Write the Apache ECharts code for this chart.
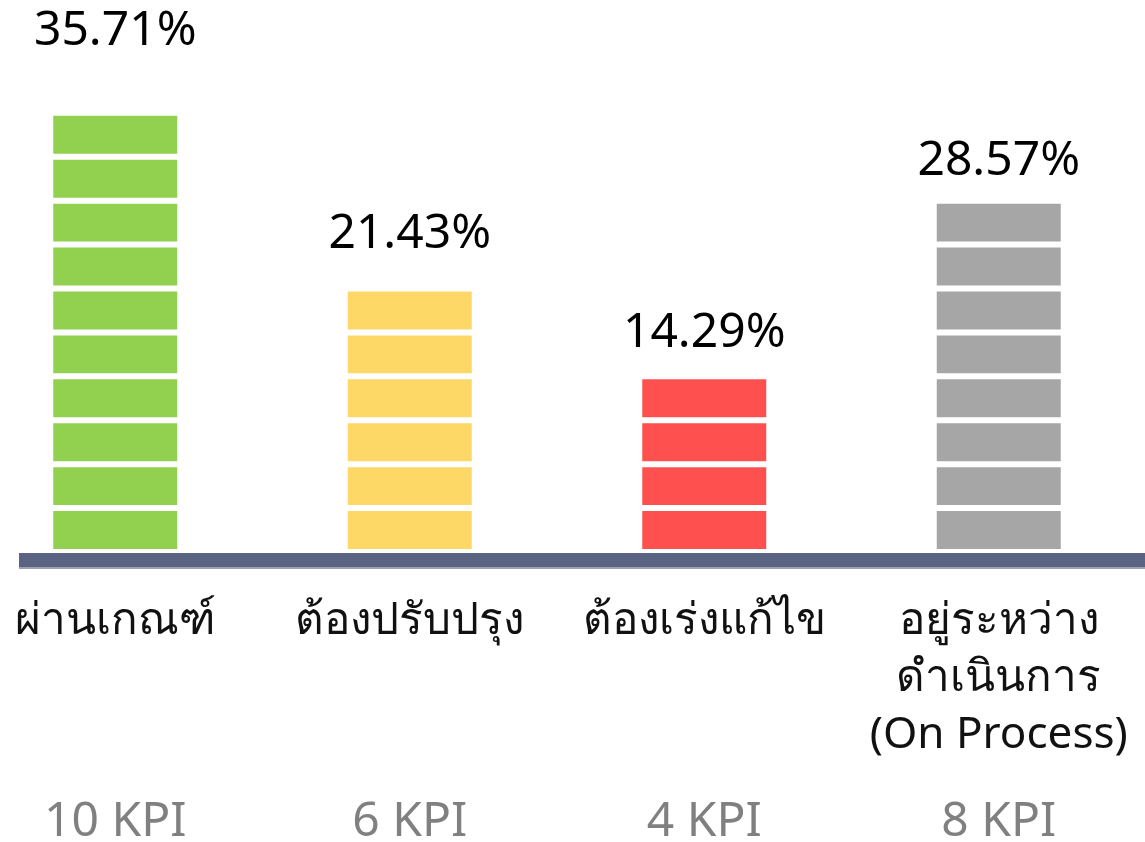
<!DOCTYPE html>
<html lang="th">
<head>
    <meta charset="UTF-8">
    <title>KPI</title>
    <script src="https://cdn.jsdelivr.net/npm/echarts@6/dist/echarts.min.js"></script>
    <style>
        *{margin:0;padding:0;}
        body,html{width:100%;height:100%;overflow:hidden;background:#fff;}
        .box{width:1145px;height:842px;}
    </style>
</head>
<body>
<div class="box"></div>
<script>
    // ข้อมูล
    let categories = ['ผ่านเกณฑ์', 'ต้องปรับปรุง', 'ต้องเร่งแก้ไข', 'อยู่ระหว่าง\nดำเนินการ\n(On Process)'];
    let kpiCounts = [10, 6, 4, 8];
    let percents = ['35.71%', '21.43%', '14.29%', '28.57%'];
    let kpiLabels = ['10 KPI', '6 KPI', '4 KPI', '8 KPI'];

    // สไตล์
    let colors = ['#92d050', '#fdd866', '#ff5050', '#a6a6a6'];
    let labelGap = [57, 29, 18, 14];
    let font = "'Noto Sans', sans-serif";

    let myChart = echarts.init(document.querySelector('.box'));

    let maxCount = Math.max(...kpiCounts);
    let series = [];
    for (let i = 0; i < maxCount; i++) {
        series.push({
            type: 'bar',
            stack: 'kpi',
            barWidth: 130,
            xAxisIndex: 0,
            yAxisIndex: 0,
            data: kpiCounts.map((k, c) => {
                if (k <= i) return '-';
                return {
                    value: 1,
                    itemStyle: {color: colors[c]},
                    label: {show: i === k - 1, distance: labelGap[c]}
                };
            }),
            itemStyle: {borderColor: '#fff', borderWidth: 3},
            label: {
                position: 'top',
                fontSize: 48,
                lineHeight: 50,
                color: '#000',
                fontFamily: font,
                formatter: p => percents[p.dataIndex]
            },
            emphasis: {disabled: true},
            silent: true
        });
    }

    let option = {
        backgroundColor: '#fff',
        animation: false,
        grid: [
            {left: -32, right: -1, top: 25, bottom: 290, containLabel: false, outerBoundsMode: 'none'},
            {left: 19, right: 0, top: 100, bottom: 282, containLabel: false, outerBoundsMode: 'none'}
        ],
        xAxis: [
            {
                gridIndex: 0,
                type: 'category',
                data: categories,
                axisLine: {show: false},
                axisTick: {show: false},
                axisLabel: {
                    interval: 0,
                    margin: 41,
                    fontSize: 44,
                    lineHeight: 57,
                    color: '#111',
                    fontFamily: font,
                    verticalAlign: 'top'
                }
            },
            {
                gridIndex: 0,
                type: 'category',
                position: 'bottom',
                offset: 239,
                data: kpiLabels,
                axisLine: {show: false},
                axisTick: {show: false},
                axisLabel: {
                    interval: 0,
                    margin: 8,
                    fontSize: 48,
                    lineHeight: 46,
                    color: '#808080',
                    fontFamily: font,
                    verticalAlign: 'top'
                }
            },
            {
                gridIndex: 1,
                type: 'category',
                data: categories,
                axisLine: {lineStyle: {color: '#5b6383', width: 14, cap: 'butt', shadowColor: '#9ca1b6', shadowOffsetY: 2}},
                axisTick: {show: false},
                axisLabel: {show: false}
            }
        ],
        yAxis: [
            {gridIndex: 0, type: 'value', min: 0, max: 12, show: false},
            {gridIndex: 1, type: 'value', show: false}
        ],
        series
    };

    myChart.setOption(option);
</script>
</body>
</html>
